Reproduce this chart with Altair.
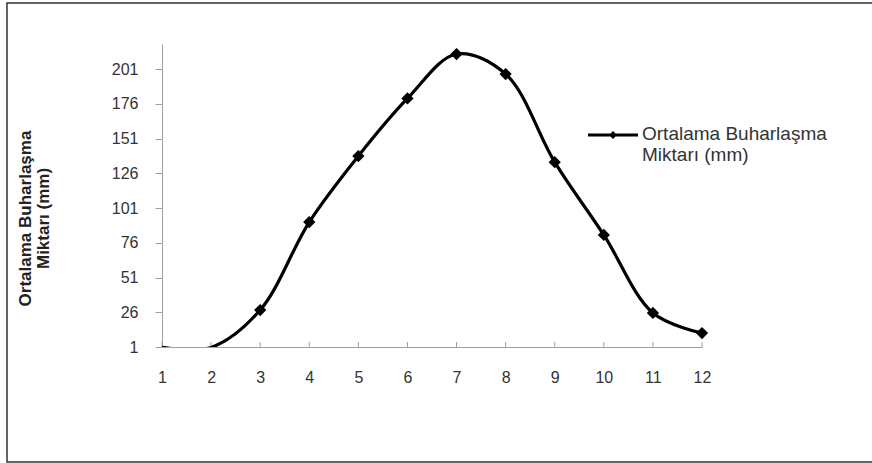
import altair as alt
import pandas as pd

months = [1, 2, 3, 4, 5, 6, 7, 8, 9, 10, 11, 12]
values = [0.7, 0.7, 27.6, 90.9, 138.4, 179.8, 211.8, 197.4, 134, 81.6, 25.5, 11]
y_ticks = [1, 26, 51, 76, 101, 126, 151, 176, 201]
series_name = "Ortalama Buharlaşma Miktarı (mm)"

df = pd.DataFrame({"ay": months, "deger": values, "seri": [series_name] * len(months)})

FONT = "Liberation Sans"

x_scale = alt.Scale(domain=[1, 12], nice=False, zero=False)
y_scale = alt.Scale(domain=[1, 219], nice=False, zero=False)

x_enc = alt.X("ay:Q", scale=x_scale,
              axis=alt.Axis(values=months, title=None, ticks=False, grid=False,
                            domainColor="#a0a0a0", labelFont=FONT, labelFontSize=16,
                            labelColor="#333333", labelPadding=22, labelFlush=False,
                            labelOverlap=False))
y_enc = alt.Y("deger:Q", scale=y_scale,
              axis=alt.Axis(values=y_ticks, grid=False, tickColor="#a0a0a0", tickSize=7,
                            domainColor="#a0a0a0", labelFont=FONT, labelFontSize=16,
                            labelColor="#333333", labelPadding=17, labelOverlap=False,
                            tickCount=len(y_ticks),
                            title=["Ortalama Buharlaşma", "Miktarı (mm)"],
                            titleFont=FONT, titleFontSize=17, titleFontWeight="bold",
                            titleColor="#222222", titleAngle=270, titleAlign="center",
                            titleBaseline="middle", titleX=-137, titleY=174,
                            titleLineHeight=18))

legend_symbol = ("M-1,0.336L1,0.336L1,0.464L-1,0.464Z "
                 "M0,0.24L0.16,0.4L0,0.56L-0.16,0.4Z")

color = alt.Color("seri:N", scale=alt.Scale(range=["black"]),
                  legend=alt.Legend(title=None, orient="none", legendX=426, legendY=56,
                                    symbolType=legend_symbol, symbolSize=2500,
                                    symbolFillColor="black", symbolStrokeWidth=0,
                                    labelFont=FONT, labelFontSize=19, labelColor="#333333",
                                    labelExpr="['Ortalama Buharlaşma', 'Miktarı (mm)']",
                                    labelLimit=400, labelOffset=4, labelBaseline="top"))

base = alt.Chart(df)

line = base.mark_line(interpolate="catmull-rom", strokeWidth=3.2, clip=True).encode(
    x=x_enc, y=y_enc, color=color)
points = base.transform_filter("datum.deger >= 1").mark_point(
    shape="diamond", filled=True, size=150, opacity=1).encode(
    x=x_enc, y=y_enc, color=color)
xticks = base.mark_rule(color="#a0a0a0", strokeWidth=1).encode(
    x=x_enc, y=alt.value(303), y2=alt.value(298))
border = alt.Chart(pd.DataFrame({"b": [0]})).mark_rect(
    fill=None, stroke="#333333", strokeWidth=1.5, clip=False).encode(
    x=alt.value(-155), x2=alt.value(760), y=alt.value(-41), y2=alt.value(418))

chart = alt.layer(border, xticks, line, points).properties(
    width=540, height=303,
    autosize=alt.AutoSizeParams(type="none"),
    padding={"left": 162, "top": 44, "right": 170, "bottom": 116},
    background="white",
).configure_view(stroke=None)

chart.save("out.html", embed_options={"renderer": "svg", "actions": False})
